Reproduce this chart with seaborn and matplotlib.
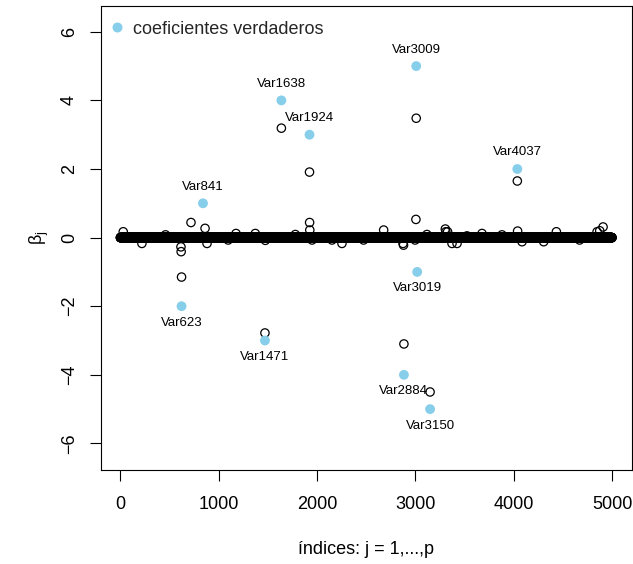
import numpy as np
import pandas as pd
import matplotlib
matplotlib.use("Agg")
import matplotlib.pyplot as plt
from matplotlib.lines import Line2D
import seaborn as sns

# number of predictors
p = 5000

# true (nonzero) coefficients and their variable indices
true_idx = [623, 841, 1471, 1638, 1924, 2884, 3009, 3019, 3150, 4037]
true_beta = [-2, 1, -3, 4, 3, -4, 5, -1, -5, 2]
true_names = ["Var623", "Var841", "Var1471", "Var1638", "Var1924",
              "Var2884", "Var3009", "Var3019", "Var3150", "Var4037"]

# estimated coefficients that are not exactly zero
est_idx = [30, 220, 460, 617, 619, 623, 719, 862, 882, 1097, 1177, 1373,
           1471, 1475, 1638, 1780, 1924, 1925, 1927, 1950, 2153, 2254,
           2474, 2678, 2875, 2884, 2880, 2998, 3006, 3009, 3118, 3150,
           3305, 3310, 3328, 3373, 3424, 3525, 3678, 3881, 4037, 4040,
           4085, 4305, 4434, 4670, 4848, 4875, 4909]
est_beta = [0.17, -0.17, 0.08, -0.27, -0.41, -1.15, 0.44, 0.27, -0.17,
            -0.07, 0.12, 0.12, -2.78, -0.08, 3.19, 0.09, 1.91, 0.44, 0.22,
            -0.07, -0.07, -0.17, -0.07, 0.22, -0.17, -3.10, -0.22, -0.07,
            0.53, 3.48, 0.09, -4.50, 0.25, 0.17, 0.17, -0.17, -0.17, 0.05,
            0.12, 0.08, 1.65, 0.19, -0.12, -0.12, 0.17, -0.07, 0.17, 0.20,
            0.31]

beta_hat = np.zeros(p)
beta_hat[np.array(est_idx) - 1] = est_beta
est_df = pd.DataFrame({"j": np.arange(1, p + 1), "beta": beta_hat})
true_df = pd.DataFrame({"j": true_idx, "beta": true_beta, "name": true_names})

sns.set_theme(style="white")
plt.rcParams["font.family"] = ["Liberation Sans", "DejaVu Sans"]
plt.rcParams["mathtext.fontset"] = "custom"
plt.rcParams["mathtext.rm"] = "Liberation Sans"
plt.rcParams["mathtext.it"] = "Liberation Sans"

W, H = 633, 564
fig = plt.figure(figsize=(W / 100, H / 100), dpi=100)
left, right, top, bottom = 100.7, 631.7, 5.7, 469.5
ax = fig.add_axes([left / W, 1 - bottom / H, (right - left) / W, (bottom - top) / H])

sns.scatterplot(data=est_df, x="j", y="beta", ax=ax, marker="o", s=36,
                facecolor="none", edgecolor="black", linewidth=0.9,
                legend=False, zorder=2)
sns.scatterplot(data=true_df, x="j", y="beta", ax=ax, marker="o", s=50,
                color="#87CEEB", edgecolor="none", linewidth=0,
                legend=False, zorder=3)

for _, r in true_df.iterrows():
    off = 11.9 if r["beta"] > 0 else -11.9
    ax.annotate(r["name"], (r["j"], r["beta"]), xytext=(0, off),
                textcoords="offset points", ha="center", va="center",
                fontsize=9.5, color="black", zorder=4)

ax.set_xlim(-199, 5200)
ax.set_ylim(-6.76, 6.76)
ax.set_xticks(range(0, 5001, 1000))
ax.set_yticks(range(-6, 7, 2))
ax.tick_params(axis="both", direction="out", length=7.9, width=0.8,
               color="black", labelsize=13, labelcolor="black",
               bottom=True, left=True)
ax.tick_params(axis="x", pad=11)
ax.tick_params(axis="y", pad=8.5)
for lab in ax.get_yticklabels():
    lab.set_rotation(90)
    lab.set_va("center")

for s in ax.spines.values():
    s.set_color("black")
    s.set_linewidth(0.8)

ax.set_xlabel("índices: j = 1,...,p", fontsize=13, color="black", labelpad=20)
ax.set_ylabel(r"$\mathrm{\beta_j}$", fontsize=13, color="black", labelpad=7)

handle = Line2D([], [], marker="o", linestyle="none", markersize=7.2,
                markerfacecolor="#87CEEB", markeredgecolor="none")
ax.legend([handle], ["coeficientes verdaderos"], loc="upper left",
          bbox_to_anchor=(0, 0.983), frameon=False, fontsize=13,
          borderaxespad=0, borderpad=0.4, handlelength=1.0,
          handletextpad=0.39)

fig.savefig("out.png", dpi=100, facecolor="white")
